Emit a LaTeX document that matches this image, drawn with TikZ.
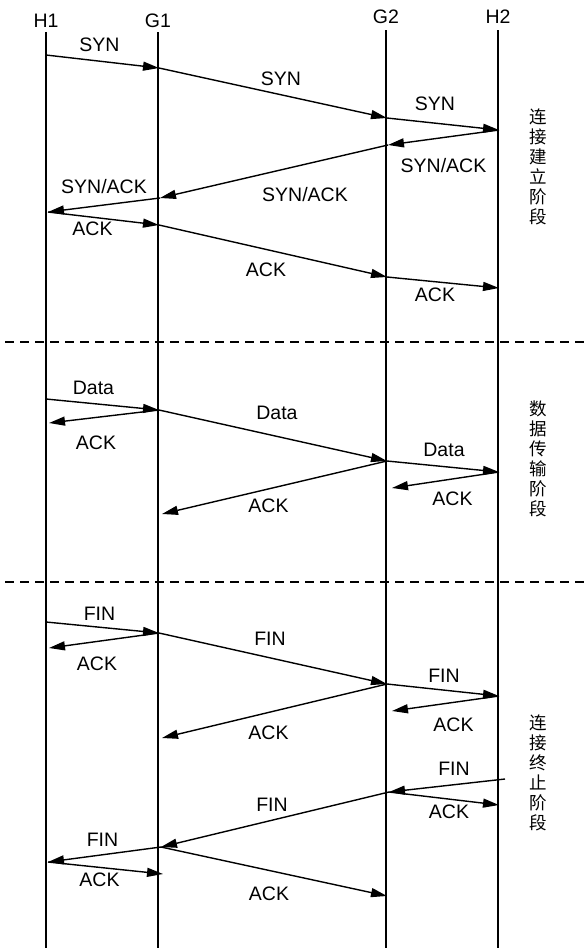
\documentclass[tikz,border=0pt]{standalone}
\usepackage{fontspec}
\setmainfont{Liberation Sans}
\newfontfamily\cjkfont{Noto Sans CJK SC}
\usetikzlibrary{arrows.meta}

\begin{document}
\begin{tikzpicture}[x=1pt, y=-1pt,
  every node/.style={font=\fontsize{19.5}{22}\selectfont, inner sep=0pt},
  life/.style={line width=1.3pt},
  msg/.style={line width=1.4pt, -{Triangle[length=16pt, width=9pt]}},
  sep/.style={line width=1.6pt, dash pattern=on 9pt off 6pt},
  phase/.style={font=\cjkfont\fontsize{17.5}{20}\selectfont, align=center}]
  \useasboundingbox (0,0) rectangle (586,951);

  % hosts, gateways and their time lines
  \node (h1) at (46,21) {H1};
  \node (g1) at (158,21) {G1};
  \node (g2) at (386,17) {G2};
  \node (h2) at (498,17) {H2};
  \coordinate (bottom) at (0,948);
  \draw[life] ([yshift=-4pt]h1.south) -- (h1.south |- bottom);
  \draw[life] ([yshift=-4pt]g1.south) -- (g1.south |- bottom);
  \draw[life] ([yshift=-6pt]g2.south) -- (g2.south |- bottom);
  \draw[life] ([yshift=-6pt]h2.south) -- (h2.south |- bottom);

  % phase borders
  \draw[sep] (5,342) -- (586,342);
  \draw[sep] (5,582) -- (586,582);

  % connection setup
  \coordinate (h1s) at (46,55);
  \coordinate (g1s) at (159,68);
  \coordinate (g2s) at (387,118);
  \coordinate (h2s) at (499,130);
  \coordinate (g2sa) at (388,145);
  \coordinate (g1sa) at (160,198);
  \coordinate (h1sa) at (48,212);
  \coordinate (g1a) at (159,225);
  \coordinate (g2a) at (387,277);
  \coordinate (h2a) at (499,288);

  \draw[msg] (h1s) -- (g1s) node[midway, above=9pt, xshift=-3pt] {SYN};
  \draw[msg] (g1s) -- (g2s) node[midway, above=7pt, xshift=8pt] {SYN};
  \draw[msg] (g2s) -- (h2s) node[midway, above=13pt, xshift=-8pt] {SYN};
  \draw[msg] (h2s) -- (g2sa) node[midway, below=20pt] {SYN/ACK};
  \draw[msg] (g2sa) -- (g1sa) node[midway, below=15pt, xshift=31pt] {SYN/ACK};
  \draw[msg] (g1sa) -- (h1sa) node[midway, above=11pt] {SYN/ACK};
  \draw[msg] (h1sa) -- (g1a) node[midway, below=3pt, xshift=-11pt] {ACK};
  \draw[msg] (g1a) -- (g2a) node[midway, below=11pt, xshift=-7pt] {ACK};
  \draw[msg] (g2a) -- (h2a) node[midway, below=5pt, xshift=-8pt] {ACK};
  \node[phase] (setup) at (538,167) {连\\接\\建\\立\\阶\\段};

  % data transfer
  \coordinate (h1d) at (46,399);
  \coordinate (g1d) at (159,410);
  \coordinate (g2d) at (387,461);
  \coordinate (h2d) at (499,472);
  \coordinate (h1da) at (49,423);
  \coordinate (g1da) at (162,514);
  \coordinate (g2da) at (392,488);

  \draw[msg] (h1d) -- (g1d) node[midway, above=9pt, xshift=-9pt] {Data};
  \draw[msg] (g1d) -- (h1da) node[midway, below=19pt, xshift=-8pt] {ACK};
  \draw[msg] (g1d) -- (g2d) node[midway, above=15pt, xshift=4pt] {Data};
  \draw[msg] (g2d) -- (g1da) node[midway, below=11pt, xshift=-6pt] {ACK};
  \draw[msg] (g2d) -- (h2d) node[midway, above=9pt, xshift=1pt] {Data};
  \draw[msg] (h2d) -- (g2da) node[midway, below=11pt, xshift=7pt] {ACK};
  \node[phase] (transfer) at (538,459) {数\\据\\传\\输\\阶\\段};

  % connection release
  \coordinate (h1f) at (46,622);
  \coordinate (g1f) at (159,633);
  \coordinate (g2f) at (387,684);
  \coordinate (h2f) at (499,696);
  \coordinate (h1fa) at (49,648);
  \coordinate (g1fa) at (162,738);
  \coordinate (g2fa) at (392,711);
  \coordinate (h2r) at (505,779);
  \coordinate (g2r) at (389,792);
  \coordinate (h2ra) at (499,805);
  \coordinate (g1r) at (161,847);
  \coordinate (h1r) at (48,862);
  \coordinate (g1ra) at (163,874);
  \coordinate (g2ra) at (387,896);

  \draw[msg] (h1f) -- (g1f) node[midway, above=6pt, xshift=-3pt] {FIN};
  \draw[msg] (g1f) -- (h1fa) node[midway, below=16pt, xshift=-7pt] {ACK};
  \draw[msg] (g1f) -- (g2f) node[midway, above=12pt, xshift=-3pt] {FIN};
  \draw[msg] (g2f) -- (g1fa) node[midway, below=14pt, xshift=-6pt] {ACK};
  \draw[msg] (g2f) -- (h2f) node[midway, above=7pt, xshift=1pt] {FIN};
  \draw[msg] (h2f) -- (g2fa) node[midway, below=14pt, xshift=8pt] {ACK};
  \draw[msg] (h2r) -- (g2r) node[midway, above=9pt, xshift=7pt] {FIN};
  \draw[msg] (g2r) -- (h2ra) node[midway, below=6pt, xshift=5pt] {ACK};
  \draw[msg] (g2r) -- (g1r) node[midway, above=7pt, xshift=-3pt] {FIN};
  \draw[msg] (g1r) -- (h1r) node[midway, above=7pt, xshift=-2pt] {FIN};
  \draw[msg] (h1r) -- (g1ra) node[midway, below=4pt, xshift=-6pt] {ACK};
  \draw[msg] (g1r) -- (g2ra) node[midway, below=15pt, xshift=-5pt] {ACK};
  \node[phase] (release) at (538,773) {连\\接\\终\\止\\阶\\段};
\end{tikzpicture}
\end{document}
